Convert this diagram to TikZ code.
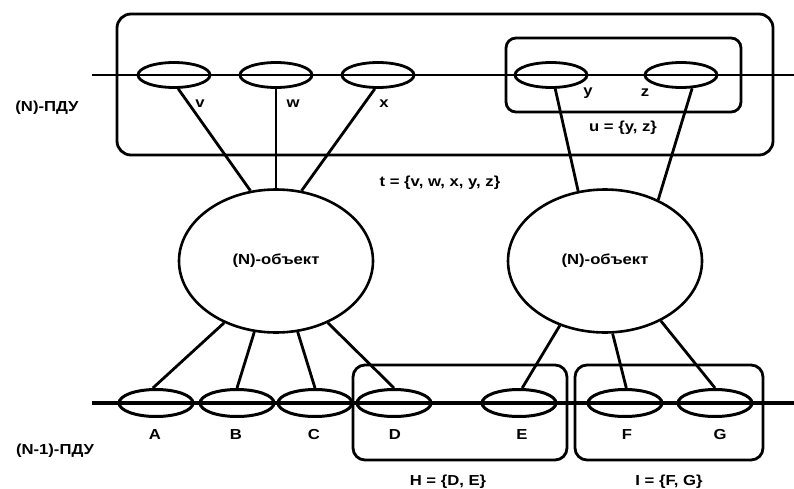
\documentclass[tikz,border=0pt]{standalone}
\usepackage{fontspec}
\setmainfont[FakeStretch=1.15]{Liberation Sans}
\usetikzlibrary{shapes.geometric}
\begin{document}
\begin{tikzpicture}[x=1pt,y=-1pt,
  lbl/.style={font=\fontsize{14.5}{16}\selectfont\bfseries, inner sep=0pt},
  sap/.style={ellipse, draw, line width=2.8pt, minimum width=72pt, minimum height=25pt, inner sep=0pt},
  bsap/.style={ellipse, draw, line width=3pt, minimum width=74pt, minimum height=27pt, inner sep=0pt},
  ent/.style={ellipse, draw, line width=2.6pt, minimum width=194pt, minimum height=143pt, inner sep=0pt, font=\fontsize{14.5}{16}\selectfont\bfseries},
  conn/.style={line width=2.8pt},
  box/.style={draw, line width=2.8pt},
  hline/.style={line width=2pt},
  bline/.style={line width=3.4pt}]
\useasboundingbox (0,0) rectangle (794,489);
% outer boxes
\draw[box, rounded corners=14pt] (117,14) rectangle (773,155);
\draw[box, rounded corners=10pt] (506,38) rectangle (741,112);
\draw[box, rounded corners=12pt] (353,365) rectangle (567,460);
\draw[box, rounded corners=12pt] (575,365) rectangle (763,460);
% horizontal lines
\coordinate (tl) at (92,75);
\coordinate (tr) at (794,75);
\coordinate (bl) at (92,403);
\coordinate (br) at (794,403);
\draw[hline] (tl) -- (tr);
\draw[bline] (bl) -- (br);
% top SAPs
\node[sap] (v) at (174,75) {};
\node[sap] (w) at (276,75) {};
\node[sap] (x) at (378,75) {};
\node[sap] (y) at (551,75) {};
\node[sap] (z) at (681,75) {};
% bottom SAPs
\node[bsap] (A) at (156,403) {};
\node[bsap] (B) at (237,403) {};
\node[bsap] (C) at (315,403) {};
\node[bsap] (D) at (394,403) {};
\node[bsap] (E) at (519,403) {};
\node[bsap] (F) at (625,403) {};
\node[bsap] (G) at (715,403) {};
% entities
\node[ent] (L) at (276,261) {(N)-объект};
\node[ent] (R) at (605,261) {(N)-объект};
% connectors
\draw[conn] (v.-73) -- (L.110);
\draw[conn] (w.south) -- (L.north);
\draw[conn] (x.-103) -- (L.70);
\draw[conn] (y.-73) -- (R.111);
\draw[conn] (z.-50) -- (R.49);
\draw[conn] (L.-130) -- (A.102);
\draw[conn] (L.-107) -- (B.north);
\draw[conn] (L.-73) -- (C.north);
\draw[conn] (L.-50) -- (D.north);
\draw[conn] (R.-125) -- (E.78);
\draw[conn] (R.-84) -- (F.85);
\draw[conn] (R.-47) -- (G.north);
% labels
\node[lbl] (lN) at (47,108) {(N)-ПДУ};
\node[lbl] (lN1) at (55,451) {(N-1)-ПДУ};
\node[lbl] (lv) at (200,104) {v};
\node[lbl] (lw) at (293,104) {w};
\node[lbl] (lx) at (384,104) {x};
\node[lbl] (ly) at (588,93) {y};
\node[lbl] (lz) at (645,93) {z};
\node[lbl] (lu) at (623,128) {u = \{y, z\}};
\node[lbl] (lt) at (440,183) {t = \{v, w, x, y, z\}};
\node[lbl] (lA) at (155,435) {A};
\node[lbl] (lB) at (236,435) {B};
\node[lbl] (lC) at (314,435) {C};
\node[lbl] (lD) at (395,435) {D};
\node[lbl] (lE) at (522,435) {E};
\node[lbl] (lF) at (627,435) {F};
\node[lbl] (lG) at (720,435) {G};
\node[lbl] (lH) at (448,482) {H = \{D, E\}};
\node[lbl] (lI) at (669,482) {I = \{F, G\}};
\end{tikzpicture}
\end{document}
